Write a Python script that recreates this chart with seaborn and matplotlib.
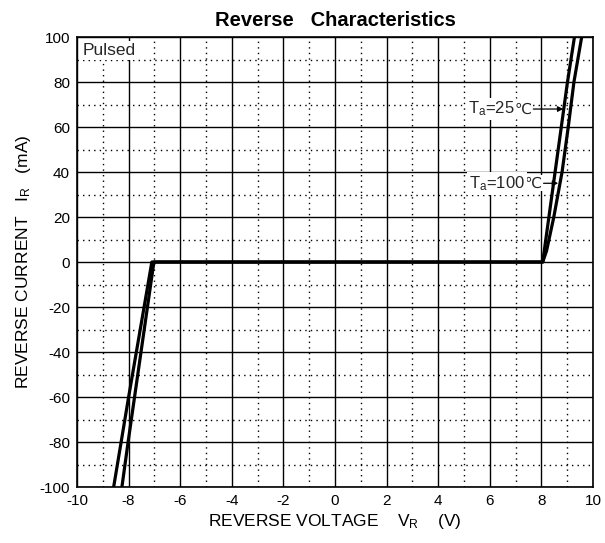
import matplotlib
matplotlib.use('Agg')
import matplotlib.pyplot as plt
from matplotlib.ticker import MultipleLocator
import pandas as pd
import seaborn as sns

# Style
sns.set_theme(style="white")
plt.rcParams['font.family'] = ['Liberation Sans', 'DejaVu Sans']
plt.rcParams['mathtext.default'] = 'regular'
plt.rcParams['axes.unicode_minus'] = False

# Donnees (V, mA)
v_25 = [-8.26, -8.02, -7.77, -7.52, -7.27, -7.02, 8.05, 8.29, 8.53, 8.77, 9.01, 9.28]
i_25 = [-100, -80, -60, -40, -20, 0, 0, 20, 40, 60, 80, 100]
v_100 = [-8.58, -8.29, -8.0, -7.7, -7.4, -7.1, 8.05, 8.2, 8.48, 8.8, 9.04, 9.26, 9.56]
i_100 = [-100, -80, -60, -40, -20, 0, 0, 5, 20, 40, 60, 80, 100]

x_ticks = list(range(-10, 11, 2))
y_ticks = list(range(-100, 101, 20))

df_25 = pd.DataFrame({'V': v_25, 'I': i_25})
df_100 = pd.DataFrame({'V': v_100, 'I': i_100})

fig = plt.figure(figsize=(6.05, 5.43), dpi=100)
ax = fig.add_axes([0.1273, 0.1031, 0.8529, 0.8287])

sns.lineplot(data=df_25, x='V', y='I', sort=False, estimator=None,
             color='black', lw=2.3, ax=ax, zorder=5)
sns.lineplot(data=df_100, x='V', y='I', sort=False, estimator=None,
             color='black', lw=2.3, ax=ax, zorder=5)

ax.set_xlim(-10, 10)
ax.set_ylim(-100, 100)
ax.set_xticks(x_ticks)
ax.set_yticks(y_ticks)
ax.xaxis.set_minor_locator(MultipleLocator(1))
ax.yaxis.set_minor_locator(MultipleLocator(10))
ax.grid(which='major', color='black', lw=1.0)
ax.grid(which='minor', color='black', lw=1.0, ls=(0, (1, 3)))
ax.tick_params(which='both', length=0, labelsize=11, colors='black', pad=5)
for sp in ax.spines.values():
    sp.set_color('black')
    sp.set_linewidth(1.2)

ax.set_xlabel('REVERSE VOLTAGE    V$_R$    (V)', fontsize=12.5, color='black', labelpad=3)
ax.set_ylabel('REVERSE CURRENT   I$_R$   (mA)', fontsize=12.5, color='black', labelpad=5)
ax.set_title('Reverse   Characteristics', fontsize=14.5, fontweight='bold', color='black', pad=8)

box = dict(facecolor='white', edgecolor='none', pad=1.5)
ax.text(-9.78, 97.5, 'Pulsed', fontsize=12.5, va='top', ha='left', bbox=box, zorder=6)

# etiquettes de temperature : le signe degre vient de DejaVu Sans
arrow = dict(arrowstyle='-|>', color='black', lw=0.9, mutation_scale=8, shrinkA=1, shrinkB=0)


def temp_label(txt, x_text, tip):
    t = ax.text(x_text, tip[1], txt, fontsize=12, ha='right', va='center',
                bbox=box, zorder=6)
    deg = ax.annotate('\u2103', xy=(1, 0.5), xycoords=t, xytext=(0.3, 0),
                      textcoords='offset points', fontsize=11,
                      ha='left', va='center', family='DejaVu Sans',
                      bbox=dict(facecolor='white', edgecolor='none', pad=0.3),
                      zorder=5.9)
    ax.annotate('', xy=tip, xytext=(1, 0.5), textcoords=deg,
                arrowprops=arrow, zorder=6)


temp_label('T$_a$=25', 6.95, (8.85, 68))
temp_label('T$_a$=100', 7.35, (8.65, 35))

fig.savefig('out.png', dpi=100)
